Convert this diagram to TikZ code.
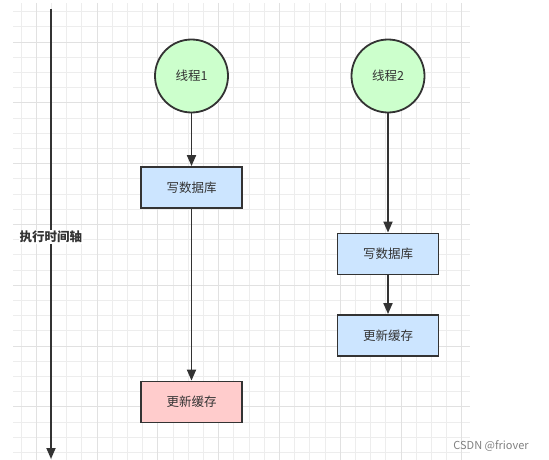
\documentclass[tikz,border=0pt]{standalone}
\usepackage{fontspec}
\setmainfont{Noto Sans CJK SC}
\usetikzlibrary{arrows.meta}
\definecolor{gridminor}{HTML}{EDEDED}
\definecolor{gridmajor}{HTML}{E1E1E1}
\definecolor{inkline}{HTML}{333333}
\definecolor{threadgreen}{HTML}{CCFFCC}
\definecolor{dbblue}{HTML}{CCE5FF}
\definecolor{cachered}{HTML}{FFCCCC}
\begin{document}
\begin{tikzpicture}[x=1pt,y=1pt,yscale=-1,
    thread/.style={circle,draw=inkline,fill=threadgreen,line width=1.8pt,minimum size=73pt,inner sep=0pt,text=inkline,font=\fontsize{12.5}{14}\selectfont},
    task/.style={rectangle,draw=inkline,line width=1.8pt,minimum width=101pt,minimum height=41pt,inner sep=0pt,text=inkline,font=\fontsize{12.5}{14}\selectfont},
    flow/.style={draw=inkline,line width=1.8pt,-{Triangle[length=11pt,width=9pt]}}]
    \useasboundingbox (0,0) rectangle (549,460);
    
    %Grid background
    \begin{scope}
      \clip (13,3) rectangle (470,460);
      \foreach \gx in {21,36.2,...,470} \draw[gridminor,line width=0.8pt] (\gx,3) -- (\gx,460);
      \foreach \gy in {11.6,26.8,...,460} \draw[gridminor,line width=0.8pt] (13,\gy) -- (470,\gy);
      \foreach \gx in {36.2,97,...,470} \draw[gridmajor,line width=0.9pt] (\gx,3) -- (\gx,460);
      \foreach \gy in {42,102.8,...,460} \draw[gridmajor,line width=0.9pt] (13,\gy) -- (470,\gy);
    \end{scope}
    
    %Time axis
    \coordinate (tstart) at (51,9);
    \coordinate (tend) at (51,459);
    \draw[flow] (tstart) -- (tend);
    % Text Node
    \node[fill=white,inner sep=1pt,text=inkline,font=\fontsize{12.5}{14}\selectfont\bfseries] (axislabel) at (51,237) {执行时间轴};
    
    %Thread 1
    \node[thread] (t1) at (191.5,76) {线程1};
    \node[task,fill=dbblue] (db1) at (191.5,187.5) {写数据库};
    \node[task,fill=cachered] (cache1) at (191.5,402) {更新缓存};
    \draw[flow] (t1) -- (db1);
    \draw[flow] (db1) -- (cache1);
    
    %Thread 2
    \node[thread] (t2) at (388,76) {线程2};
    \node[task,fill=dbblue] (db2) at (388,254) {写数据库};
    \node[task,fill=dbblue] (cache2) at (388,335.5) {更新缓存};
    \draw[flow] (t2) -- (db2);
    \draw[flow] (db2) -- (cache2);
    
    % Text Node
    \node[text=black!50,font=\fontsize{11}{13}\selectfont] (mark) at (491,446) {CSDN @friover};
    
\end{tikzpicture}
\end{document}
